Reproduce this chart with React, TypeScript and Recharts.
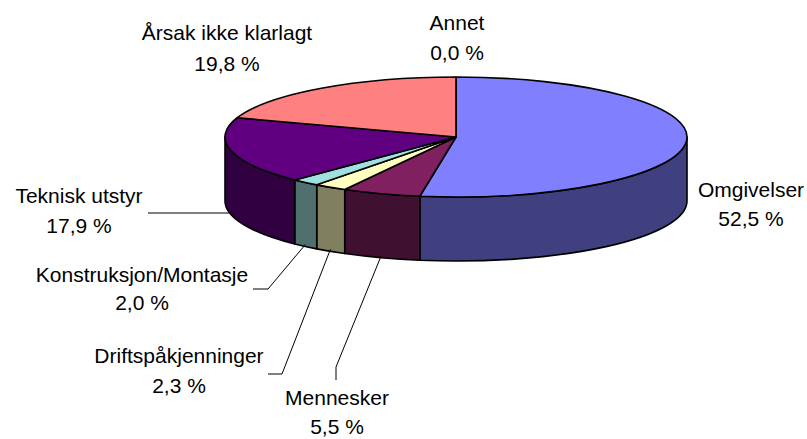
import React from 'react';
import { PieChart, Pie } from 'recharts';

const categories = ['Omgivelser', 'Mennesker', 'Driftspåkjenninger', 'Konstruksjon/Montasje', 'Teknisk utstyr', 'Årsak ikke klarlagt', 'Annet'];
const values = [52.5, 5.5, 2.3, 2.0, 17.9, 19.8, 0.0];

const topColors = ['#8080FF', '#802060', '#FFFFC0', '#A0E0E0', '#600080', '#FF8080', '#0066CC'];
const wallColors = ['#404080', '#401030', '#808060', '#507070', '#300040', '#804040', '#003366'];

const data = categories.map((name, i) => ({ name, value: values[i] }));

const W = 807;
const H = 439;
const CX = 456;
const CY = 137;
const RX = 231;
const RATIO = 60 / 231;
const DEPTH = 64;
const RAD = Math.PI / 180;
const FONT = 'Liberation Sans, Arial, sans-serif';

// label layout, offsets relative to pie centre
const labelLayout: Record<string, { tx: number; ty1: number; ty2: number; elbow?: [number, number]; end?: [number, number] }> = {
  'Omgivelser': { tx: 295, ty1: 60, ty2: 89 },
  'Mennesker': { tx: -119, ty1: 268, ty2: 297, elbow: [-120, 230], end: [-120, 243] },
  'Driftspåkjenninger': { tx: -277, ty1: 226, ty2: 256, elbow: [-174, 237], end: [-188, 237] },
  'Konstruksjon/Montasje': { tx: -314, ty1: 145, ty2: 173, elbow: [-188, 152], end: [-203, 152] },
  'Teknisk utstyr': { tx: -377, ty1: 66, ty2: 96, end: [-308, 76] },
  'Årsak ikke klarlagt': { tx: -229, ty1: -97, ty2: -66 },
  'Annet': { tx: 1, ty1: -107, ty2: -77 },
};

const fmt = (v: number) => v.toFixed(1).replace('.', ',') + ' %';

function idxOf(props: any): number {
  const n = props.name ?? props.payload?.name;
  const i = categories.indexOf(n);
  return i >= 0 ? i : (props.index ?? 0);
}

function Slice3D(props: any) {
  const { cx, cy, outerRadius, startAngle, endAngle } = props;
  const i = idxOf(props);
  const rx = outerRadius;
  const ry = rx * RATIO;
  const pt = (deg: number, dy = 0) => `${cx + rx * Math.cos(deg * RAD)},${cy - ry * Math.sin(deg * RAD) + dy}`;
  const hi = Math.max(startAngle, endAngle);
  const lo = Math.min(startAngle, endAngle);
  if (hi - lo < 1e-6) return <g />;
  const large = hi - lo > 180 ? 1 : 0;
  const top = `M${cx},${cy} L${pt(hi)} A${rx},${ry} 0 ${large} 1 ${pt(lo)} Z`;
  const walls: string[] = [];
  for (let k = -2; k <= 2; k++) {
    const a = Math.max(lo, -180 + 360 * k);
    const b = Math.min(hi, 360 * k);
    if (b - a > 1e-6) {
      walls.push(`M${pt(b)} A${rx},${ry} 0 0 1 ${pt(a)} L${pt(a, DEPTH)} A${rx},${ry} 0 0 0 ${pt(b, DEPTH)} Z`);
    }
  }
  return (
    <g>
      {walls.map((d, j) => (
        <path key={j} d={d} fill={wallColors[i]} stroke="#000" strokeWidth={1.6} strokeLinejoin="round" />
      ))}
      <path d={top} fill={topColors[i]} stroke="#000" strokeWidth={1.6} strokeLinejoin="round" />
    </g>
  );
}

function renderLabel(props: any) {
  const { cx, cy, outerRadius, midAngle, value } = props;
  const i = idxOf(props);
  const name = categories[i];
  const L = labelLayout[name];
  if (!L) return null;
  const rx = outerRadius;
  const ry = rx * RATIO;
  const ax = cx + rx * Math.cos(midAngle * RAD);
  const ay = cy - ry * Math.sin(midAngle * RAD) + DEPTH - 2;
  let line = null;
  if (L.end) {
    const pts: string[] = [`${ax},${ay}`];
    if (L.elbow) pts.push(`${cx + L.elbow[0]},${cy + L.elbow[1]}`);
    pts.push(`${cx + L.end[0]},${cy + L.end[1]}`);
    line = <polyline points={pts.join(' ')} fill="none" stroke="#000" strokeWidth={1} />;
  }
  return (
    <g key={`lbl-${i}`}>
      {line}
      <text x={cx + L.tx} y={cy + L.ty1} textAnchor="middle" fontFamily={FONT} fontSize={21} fill="#000">{name}</text>
      <text x={cx + L.tx} y={cy + L.ty2} textAnchor="middle" fontFamily={FONT} fontSize={21} fill="#000">{fmt(value)}</text>
    </g>
  );
}

export default function App() {
  return (
    <div style={{ position: 'absolute', left: 0, top: 0, width: W, height: H, background: '#fff' }}>
      <PieChart width={W} height={H} margin={{ top: 0, right: 0, bottom: 0, left: 0 }}>
        <Pie
          data={data}
          dataKey="value"
          nameKey="name"
          cx={CX}
          cy={CY}
          innerRadius={0}
          outerRadius={RX}
          startAngle={90}
          endAngle={-270}
          isAnimationActive={false}
          shape={Slice3D}
          activeShape={Slice3D}
          inactiveShape={Slice3D}
          label={renderLabel}
          labelLine={false}
          stroke="none"
        />
      </PieChart>
    </div>
  );
}
